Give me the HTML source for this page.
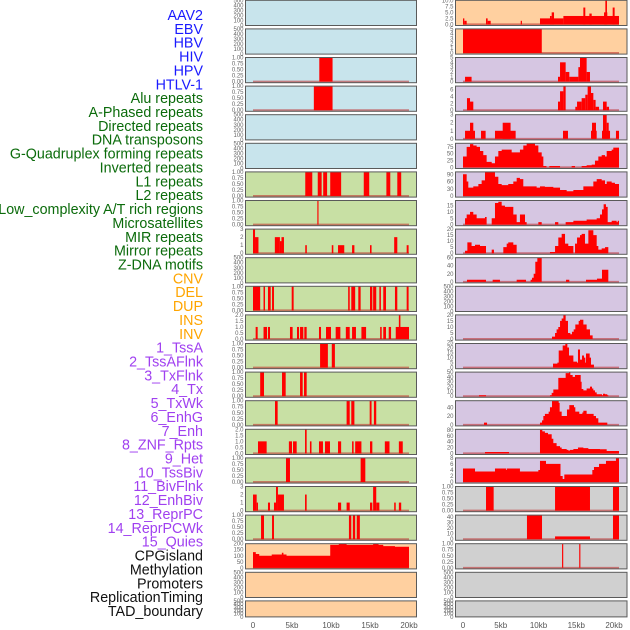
<!DOCTYPE html>
<html><head><meta charset="utf-8"><style>
html,body{margin:0;padding:0;background:#fff;}
svg{display:block;}
.lbl{font-family:"Liberation Sans",sans-serif;font-size:14.3px;text-anchor:end;}
.tk{font-family:"Liberation Sans",sans-serif;font-size:6px;fill:#666;text-anchor:end;}
.ax{font-family:"Liberation Sans",sans-serif;font-size:8px;fill:#555;text-anchor:middle;}
</style></head><body>
<svg id="chart" width="630" height="630" viewBox="0 0 630 630"></svg>
<script>
const trackLabels = ["AAV2","EBV","HBV","HIV","HPV","HTLV-1","Alu repeats","A-Phased repeats","Directed repeats","DNA transposons","G-Quadruplex forming repeats","Inverted repeats","L1 repeats","L2 repeats","Low_complexity A/T rich regions","Microsatellites","MIR repeats","Mirror repeats","Z-DNA motifs","CNV","DEL","DUP","INS","INV","1_TssA","2_TssAFlnk","3_TxFlnk","4_Tx","5_TxWk","6_EnhG","7_Enh","8_ZNF_Rpts","9_Het","10_TssBiv","11_BivFlnk","12_EnhBiv","13_ReprPC","14_ReprPCWk","15_Quies","CPGisland","Methylation","Promoters","ReplicationTiming","TAD_boundary"];
const labelColors = ["#1a1aff","#1a1aff","#1a1aff","#1a1aff","#1a1aff","#1a1aff","#0b6b0b","#0b6b0b","#0b6b0b","#0b6b0b","#0b6b0b","#0b6b0b","#0b6b0b","#0b6b0b","#0b6b0b","#0b6b0b","#0b6b0b","#0b6b0b","#0b6b0b","#ffa500","#ffa500","#ffa500","#ffa500","#ffa500","#a040f0","#a040f0","#a040f0","#a040f0","#a040f0","#a040f0","#a040f0","#a040f0","#a040f0","#a040f0","#a040f0","#a040f0","#a040f0","#a040f0","#a040f0","#111","#111","#111","#111","#111"];
const axisTicksKb = [0,5,10,15,20];
const axisTickLabels = ["0","5kb","10kb","15kb","20kb"];

const tBin = [0,0.25,0.5,0.75,1];
const tBinLab = ["0.00","0.25","0.50","0.75","1.00"];
const tEmpty = [0,100,200,300,400,500];

const leftHivBars = [[8.5,10.2,1]];
const leftHpvBars = [[7.8,10.2,1]];
const leftL1Bars = [[6.7,7.6,1],[8.3,8.8,1],[9.0,9.5,1],[9.9,11.3,1],[14.2,14.9,1],[17.1,17.6,1],[18.5,19.0,1]];
const leftL2Bars = [[8.25,8.4,1]];
const leftMirBars = [[0,0.26,3],[0.26,0.7,2],[2.8,3.45,2],[3.45,3.65,1.5],[3.65,3.97,2],[6.7,6.9,1],[10.1,10.3,1],[10.9,11.7,1],[12.7,13.0,1],[15.0,15.2,1],[18.1,18.5,2],[19.7,19.95,1]];
const leftDelBars = [[0,0.92,1],[1.35,1.54,1],[1.92,2.27,1],[2.44,2.69,1],[4.96,5.21,1],[12.2,12.4,1],[12.6,13.1,1],[13.5,13.8,1],[15.0,15.3,1],[15.4,15.8,1],[16.2,16.4,1],[16.7,17.05,1],[18.2,18.5,1],[19.7,19.95,1]];
const leftInsBars = [[0.34,0.6,1],[1.35,1.8,1],[1.92,2.18,1],[4.74,5.08,1],[5.64,5.9,1],[6.03,6.45,1],[6.58,6.88,1],[8.46,8.72,1],[9.36,10.0,1],[10.6,11.2,1],[11.9,12.4,1],[12.7,13.2,1],[13.9,14.5,1],[16.3,16.5,1],[16.7,17.05,1],[17.4,17.7,1],[18.3,20.0,1],[18.7,18.9,2]];
const leftRow13Bars = [[8.6,9.6,1],[10.1,10.5,1]];
const leftRow14Bars = [[0.92,1.41,1],[3.72,4.19,1],[6.03,6.37,1],[6.54,6.88,1]];
const leftRow15Bars = [[2.82,3.16,1],[12.0,12.4,1],[12.6,13.0,1],[14.96,15.2,1],[15.5,15.8,1]];
const leftRow16Bars = [[0.64,1.75,1],[4.6,5.0,1],[5.13,5.6,1],[6.67,6.88,2],[7.3,7.5,1],[8.46,8.97,1],[9.23,9.87,1],[10.9,11.3,1],[12.7,12.9,1],[13.1,13.9,1],[15.0,15.3,1],[16.9,17.5,1],[18.7,19.2,1]];
const leftRow17Bars = [[4.23,4.74,1],[13.8,14.4,1]];
const leftRow18Bars = [[0,0.47,2],[0.47,0.64,1],[1.92,2.18,1],[2.69,2.95,1],[2.95,3.2,3],[3.2,3.97,2],[6.67,6.88,2],[10.9,11.3,1],[12.0,12.4,1],[15.0,15.3,1],[15.4,15.8,3],[15.8,16.2,1],[18.1,18.3,1],[18.7,19.0,1]];
const leftRow19Bars = [[1.03,1.41,1],[2.44,2.69,1],[12.3,12.6,1],[12.8,13.1,1],[13.3,13.7,1]];
const leftCpgSteps = [[0,130],[0.36,115],[0.8,100],[2.4,110],[3.7,125],[3.9,110],[4.3,100],[9.9,190],[11.0,200],[12.0,190],[15.4,200],[16.1,190],[16.7,180],[18.2,175],[20.0,null]];

const rightAav2Bars = [[0,0.17,2.5],[0.17,0.47,1.5],[2.95,3.16,2.5],[3.16,3.55,1.5],[7.4,7.56,1.5],[9.87,12.87,2.5],[11.15,11.37,3.5],[11.37,11.67,5],[12.87,20.0,3.5],[15.43,15.68,7],[16.2,16.5,4.5],[18.08,18.5,5],[18.25,18.46,10],[19.19,19.44,7]];
const rightEbvBars = [[0,10.1,5]];
const rightHivBars = [[0.26,1.1,1],[12.18,12.44,1],[12.44,13.16,4],[13.16,13.63,2],[13.63,14.79,1],[14.79,15.0,3],[15.0,15.85,5],[15.85,16.28,2]];
const rightHpvBars = [[0.51,0.9,3.5],[0.9,1.32,2.5],[12.18,12.44,2.5],[12.44,12.87,5.5],[12.87,13.16,7],[14.4,14.62,1],[14.62,15.21,2.5],[15.21,15.68,3.5],[15.68,15.98,4.5],[15.98,16.41,7],[16.41,16.71,5],[16.71,17.0,3],[17.0,17.44,1],[17.95,18.42,2.5],[18.42,18.72,1]];
const rightAluBars = [[0.26,1.54,1],[0.9,1.32,2],[2.31,2.9,1],[4.1,6.75,1],[5.09,6.1,2],[12.82,13.46,1],[16.41,17.14,1],[16.54,17.05,2],[17.82,18.85,1],[17.95,18.42,3],[18.42,18.68,2],[19.61,20.0,1]];
const rightRow6Steps = [[0,40],[0.47,75],[0.9,85],[1.32,80],[1.75,75],[2.18,60],[2.6,45],[3.03,20],[3.68,15],[4.1,40],[4.53,60],[4.96,65],[5.8,65],[6.24,55],[6.88,55],[7.3,65],[7.73,80],[8.16,88],[9.23,80],[9.66,55],[10.09,40],[10.3,5],[10.7,0],[11.07,5],[12.44,0],[13.93,5],[14.36,0],[15.21,5],[15.85,8],[16.5,10],[16.92,25],[17.35,40],[17.78,45],[18.21,40],[18.42,60],[19.06,65],[19.27,72],[20.0,null]];
const rightRow7Steps = [[0,90],[0.47,60],[0.68,35],[1.32,40],[1.97,50],[2.39,65],[2.82,100],[4.1,80],[4.53,50],[4.96,45],[5.8,50],[6.45,60],[6.88,75],[7.3,70],[7.73,40],[9.44,35],[9.87,40],[10.5,38],[11.58,35],[12.44,25],[13.29,20],[14.15,25],[15.0,25],[15.43,40],[16.07,40],[16.71,60],[17.14,70],[17.78,65],[18.21,50],[18.42,60],[19.06,55],[19.48,50],[20.0,null]];
const rightRow8Steps = [[0.26,5],[0.47,8],[0.9,10],[1.32,8],[1.75,5],[2.82,6],[3.03,0],[3.68,5],[4.1,17],[4.53,18],[4.96,15],[5.38,14],[6.45,8],[6.88,2],[7.3,8],[7.95,2],[8.16,0],[9.66,2],[10.09,0],[11.8,2],[12.22,0],[13.16,2],[14.15,3],[15.85,4],[16.92,4],[17.14,5],[17.56,8],[17.82,12],[18.03,16],[18.33,14],[18.55,2],[19.06,3],[19.7,2],[19.83,3],[20.0,null]];
const rightRow9Steps = [[0.26,2],[0.56,9],[1.1,6],[1.54,7],[2.18,6],[2.95,0],[3.68,3],[3.97,0],[5.17,5],[5.6,8],[5.8,9],[6.45,7],[6.88,0],[11.15,1],[11.8,6],[12.22,13],[12.65,16],[13.08,8],[13.5,6],[14.15,0],[14.36,8],[14.62,13],[15.0,15],[15.21,16],[15.64,8],[16.07,19],[16.71,15],[17.14,6],[17.35,3],[17.78,4],[18.21,5],[18.63,null]];
const rightRow10Steps = [[0.51,5],[2.95,0],[3.8,5],[4.74,0],[6.88,5],[8.08,0],[8.67,5],[8.85,10],[9.06,20],[9.27,50],[9.53,60],[10.09,0],[13.21,5],[13.63,0],[15.77,5],[17.18,8],[17.82,30],[18.63,null]];
const rightRow12Steps = [[11.41,2],[11.8,5],[12.0,8],[12.22,10],[12.44,15],[12.65,17],[12.87,20],[13.16,15],[13.46,5],[13.76,4],[13.97,6],[14.19,8],[14.4,12],[14.83,15],[15.0,16],[15.43,12],[15.85,8],[16.28,3],[16.62,null]];
const rightRow13Steps = [[11.54,4],[12.1,5],[12.27,17],[12.65,17],[12.78,22],[13.12,24],[13.38,20],[13.59,12],[14.02,12],[14.15,6],[14.62,5],[14.74,18],[15.0,8],[15.26,12],[15.51,10],[15.68,5],[15.77,14],[16.24,10],[16.41,3],[16.79,null]];
const rightRow14Steps = [[2.05,2],[2.95,0],[11.15,2],[11.37,7],[11.58,14],[12.1,14],[12.22,38],[12.87,38],[13.16,48],[13.59,50],[13.76,44],[14.06,40],[14.36,44],[15.09,30],[15.21,15],[15.43,12],[15.85,16],[16.28,20],[16.54,16],[16.71,12],[16.92,8],[17.14,4],[17.82,2],[17.95,5],[18.21,4],[18.5,2],[18.63,null]];
const rightRow15Steps = [[2.69,5],[3.08,0],[9.87,5],[10.13,10],[10.3,20],[10.5,25],[10.98,30],[11.15,40],[11.41,55],[12.27,50],[12.39,30],[12.65,20],[13.16,20],[13.33,35],[13.63,45],[14.23,40],[14.4,30],[14.91,25],[15.3,28],[15.43,32],[15.85,25],[16.75,20],[17.05,15],[17.35,5],[18.5,null]];
const rightRow16Steps = [[2.82,5],[5.9,0],[9.87,80],[10.17,75],[10.5,70],[10.9,65],[11.37,50],[11.58,35],[12.0,25],[12.44,20],[12.65,15],[13.29,12],[13.5,10],[13.72,12],[14.15,15],[14.74,20],[15.43,18],[16.07,15],[16.71,15],[17.56,14],[18.42,8],[20.0,null]];
const rightRow17Steps = [[0,4.5],[1.54,3.5],[4.1,4.5],[5.51,4],[5.6,4.5],[7.3,3.5],[9.66,4],[9.87,7],[10.64,6],[12.44,6],[12.5,2],[12.78,1],[12.99,2.5],[16.41,2.5],[16.58,4],[16.79,5],[17.44,6],[18.33,7],[19.61,8],[20.0,null]];
const rightRow18Bars = [[2.95,3.93,1],[11.8,16.28,1],[19.23,20.0,1]];
const rightRow19Bars = [[8.2,10.13,43],[11.8,16.28,5],[19.23,20.0,43]];
const rightRow20Bars = [[12.7,12.85,1],[14.9,15.05,1]];

const BLUE="#c8e4ec",GREEN="#c8e0a4",ORANGE="#ffd0a0",PURPLE="#d6c6e2",GRAY="#d0d0d0";
const leftPanels = [
 {bg:BLUE,empty:true},{bg:BLUE,empty:true},
 {bg:BLUE,bars:leftHivBars,ymax:1,ticks:tBin,lab:tBinLab},
 {bg:BLUE,bars:leftHpvBars,ymax:1,ticks:tBin,lab:tBinLab},
 {bg:BLUE,empty:true},{bg:BLUE,empty:true},
 {bg:GREEN,bars:leftL1Bars,ymax:1,ticks:tBin,lab:tBinLab},
 {bg:GREEN,bars:leftL2Bars,ymax:1,ticks:tBin,lab:tBinLab},
 {bg:GREEN,bars:leftMirBars,ymax:3,ticks:[0,1,2,3]},
 {bg:GREEN,empty:true},
 {bg:GREEN,bars:leftDelBars,ymax:1,ticks:tBin,lab:tBinLab},
 {bg:GREEN,bars:leftInsBars,ymax:2,ticks:[0,0.5,1,1.5,2],lab:["0.0","0.5","1.0","1.5","2.0"]},
 {bg:GREEN,bars:leftRow13Bars,ymax:1,ticks:tBin,lab:tBinLab},
 {bg:GREEN,bars:leftRow14Bars,ymax:1,ticks:tBin,lab:tBinLab},
 {bg:GREEN,bars:leftRow15Bars,ymax:1,ticks:tBin,lab:tBinLab},
 {bg:GREEN,bars:leftRow16Bars,ymax:2,ticks:[0,0.5,1,1.5,2],lab:["0.0","0.5","1.0","1.5","2.0"]},
 {bg:GREEN,bars:leftRow17Bars,ymax:1,ticks:tBin,lab:tBinLab},
 {bg:GREEN,bars:leftRow18Bars,ymax:3,ticks:[0,1,2,3]},
 {bg:GREEN,bars:leftRow19Bars,ymax:1,ticks:tBin,lab:tBinLab},
 {bg:ORANGE,steps:leftCpgSteps,ymax:200,ticks:[0,50,100,150,200]},
 {bg:ORANGE,empty:true},{bg:ORANGE,empty:true}
];
const rightPanels = [
 {bg:ORANGE,bars:rightAav2Bars,ymax:10,ticks:[0,2.5,5,7.5,10],lab:["0.0","2.5","5.0","7.5","10.0"]},
 {bg:ORANGE,bars:rightEbvBars,ymax:5,ticks:[0,1,2,3,4,5]},
 {bg:PURPLE,bars:rightHivBars,ymax:5,ticks:[0,1,2,3,4,5]},
 {bg:PURPLE,bars:rightHpvBars,ymax:7,ticks:[0,2,4,6]},
 {bg:PURPLE,bars:rightAluBars,ymax:3,ticks:[0,1,2,3]},
 {bg:PURPLE,steps:rightRow6Steps,ymax:88,ticks:[0,25,50,75]},
 {bg:PURPLE,steps:rightRow7Steps,ymax:100,ticks:[0,30,60,90]},
 {bg:PURPLE,steps:rightRow8Steps,ymax:19,ticks:[0,5,10,15]},
 {bg:PURPLE,steps:rightRow9Steps,ymax:20,ticks:[0,5,10,15,20]},
 {bg:PURPLE,steps:rightRow10Steps,ymax:60,ticks:[0,20,40,60]},
 {bg:PURPLE,empty:true},
 {bg:PURPLE,steps:rightRow12Steps,ymax:20,ticks:[0,5,10,15,20]},
 {bg:PURPLE,steps:rightRow13Steps,ymax:24,ticks:[0,5,10,15,20,25]},
 {bg:PURPLE,steps:rightRow14Steps,ymax:50,ticks:[0,10,20,30,40,50]},
 {bg:PURPLE,steps:rightRow15Steps,ymax:55,ticks:[0,20,40]},
 {bg:PURPLE,steps:rightRow16Steps,ymax:82,ticks:[0,20,40,60,80]},
 {bg:PURPLE,steps:rightRow17Steps,ymax:8,ticks:[0,2,4,6,8]},
 {bg:GRAY,bars:rightRow18Bars,ymax:1,ticks:tBin,lab:tBinLab},
 {bg:GRAY,bars:rightRow19Bars,ymax:43,ticks:[0,10,20,30,40]},
 {bg:GRAY,bars:rightRow20Bars,ymax:1,ticks:tBin,lab:tBinLab},
 {bg:GRAY,empty:true},{bg:GRAY,empty:true}
];

const NS="http://www.w3.org/2000/svg";
const svg=document.getElementById('chart');
function mk(tag,attrs,parent){const e=document.createElementNS(NS,tag);for(const k in attrs)e.setAttribute(k,attrs[k]);(parent||svg).appendChild(e);return e;}

trackLabels.forEach((t,i)=>{
  const e=mk('text',{x:203,y:20+i*13.86,class:'lbl',fill:labelColors[i]});
  
  
  e.textContent=t;
});

const cols=[{left:245.5,right:416.5,x0:253,tickX0:253,tickPx:7.8},{left:455.5,right:627,x0:463,tickX0:463,tickPx:7.55}];
const PX=7.8;
function rowTop(i){return i*28.6+0.3;}
function rowH(i){return i===21?16:25.2;}

function drawPanel(p,ci,ri){
  const c=cols[ci];
  const top=rowTop(ri),h=rowH(ri),bot=top+h;
  const g=mk('g',{});
  
  
  const bg=mk('rect',{x:c.left,y:top,width:c.right-c.left,height:h,fill:p.bg},g);
  
  
  const xs=kb=>c.x0+kb*PX;
  let ymax=p.empty?500:p.ymax, ymin=p.empty?0:-0.045*ymax;
  const ys=v=>bot-(v-ymin)/(ymax-ymin)*h;
  const ticks=p.empty?tEmpty:p.ticks;
  ticks.forEach((t,k)=>{
    const e=mk('text',{x:c.left-2,y:ys(t)+2,class:'tk'},g);
    
    
    e.textContent=p.lab?p.lab[k]:String(t);
  });
  if(!p.empty){
    const base=mk('line',{x1:xs(0),x2:xs(20),y1:ys(0),y2:ys(0),stroke:'rgba(190,40,40,0.55)','stroke-width':2},g);
    
    
    if(p.bars){p.bars.forEach(b=>{
      const r=mk('rect',{x:xs(b[0]),y:ys(b[2]),width:Math.max(0.8,xs(b[1])-xs(b[0])),height:ys(0)-ys(b[2]),fill:'#ff0000'},g);
      
      
    });}
    if(p.steps){
      let d='M'+xs(p.steps[0][0])+','+ys(0);
      for(let k=0;k<p.steps.length-1;k++){
        const v=p.steps[k][1];
        d+=' L'+xs(p.steps[k][0])+','+ys(v)+' L'+xs(p.steps[k+1][0])+','+ys(v);
      }
      d+=' L'+xs(p.steps[p.steps.length-1][0])+','+ys(0)+' Z';
      const a=mk('path',{d:d,fill:'#ff0000'},g);
      
      
    }
  }
  const fr=mk('rect',{x:c.left,y:top,width:c.right-c.left,height:h,fill:'none',stroke:'#5a5a5a','stroke-width':1},g);
  
  
}
leftPanels.forEach((p,i)=>drawPanel(p,0,i));
rightPanels.forEach((p,i)=>drawPanel(p,1,i));

cols.forEach((c,ci)=>{
  axisTicksKb.forEach((t,k)=>{
    const e=mk('text',{x:c.tickX0+t*c.tickPx,y:628,class:'ax'});
    
    
    e.textContent=axisTickLabels[k];
  });
});
</script>
</body></html>
